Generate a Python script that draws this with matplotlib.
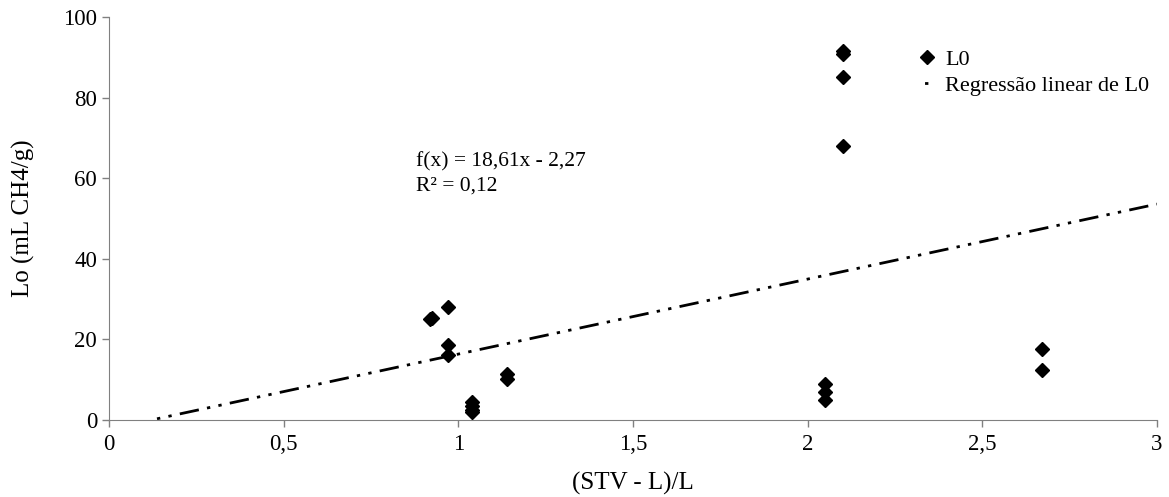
import matplotlib
matplotlib.use("Agg")
import matplotlib.pyplot as plt
import numpy as np

plt.rcParams['font.family'] = ['Liberation Serif', 'DejaVu Serif']

# data
x_vals = [0.92, 0.925, 0.97, 0.97, 0.97, 1.04, 1.04, 1.04, 1.04, 1.14, 1.14,
          2.05, 2.05, 2.05, 2.10, 2.10, 2.10, 2.10, 2.67, 2.67]
y_vals = [25.0, 25.4, 28.0, 18.5, 16.0, 4.5, 3.5, 2.5, 2.0, 11.3, 10.2,
          9.0, 7.0, 5.0, 91.5, 90.7, 85.0, 68.0, 17.5, 12.4]
slope = 18.61
intercept = -2.27
x_ticks = [0, 0.5, 1, 1.5, 2, 2.5, 3]
x_ticklabels = ["0", "0,5", "1", "1,5", "2", "2,5", "3"]
y_ticks = [0, 20, 40, 60, 80, 100]

fig = plt.figure(figsize=(11.69, 4.97), dpi=100)
ax = fig.add_axes([0.0932, 0.155, 0.8965, 0.811])

ax.plot(x_vals, y_vals, linestyle='none', marker='D', markersize=7,
        color='black', label='L0', zorder=3)

x0 = -intercept / slope
xl = np.array([x0, 3.0])
ax.plot(xl, slope * xl + intercept, color='black', linewidth=2,
        linestyle=(8, (7, 3, 1.2, 3, 1.2, 3)), label='Regressão linear de L0')

ax.text(0.88, 64.0, "f(x) = 18,61x - 2,27", fontsize=15.5, va='center', ha='left')
ax.text(0.88, 58.0, "R² = 0,12", fontsize=15.5, va='center', ha='left')

ax.set_xlim(0, 3)
ax.set_ylim(0, 100)
ax.set_xticks(x_ticks)
ax.set_xticklabels(x_ticklabels)
ax.set_yticks(y_ticks)
ax.tick_params(axis='both', labelsize=16.5, color='#808080', length=5, width=1)
ax.tick_params(axis='x', pad=5)

for s in ['top', 'right']:
    ax.spines[s].set_visible(False)
for s in ['left', 'bottom']:
    ax.spines[s].set_color('#808080')

ax.set_xlabel("(STV - L)/L", fontsize=18, labelpad=12)
ax.set_ylabel("Lo (mL CH4/g)", fontsize=18, labelpad=20)

leg = ax.legend(loc='upper right', bbox_to_anchor=(1.012, 0.97), frameon=False,
                fontsize=16, handlelength=0.7, handletextpad=0.5, labelspacing=0.25)

fig.savefig("out.png", dpi=100)
